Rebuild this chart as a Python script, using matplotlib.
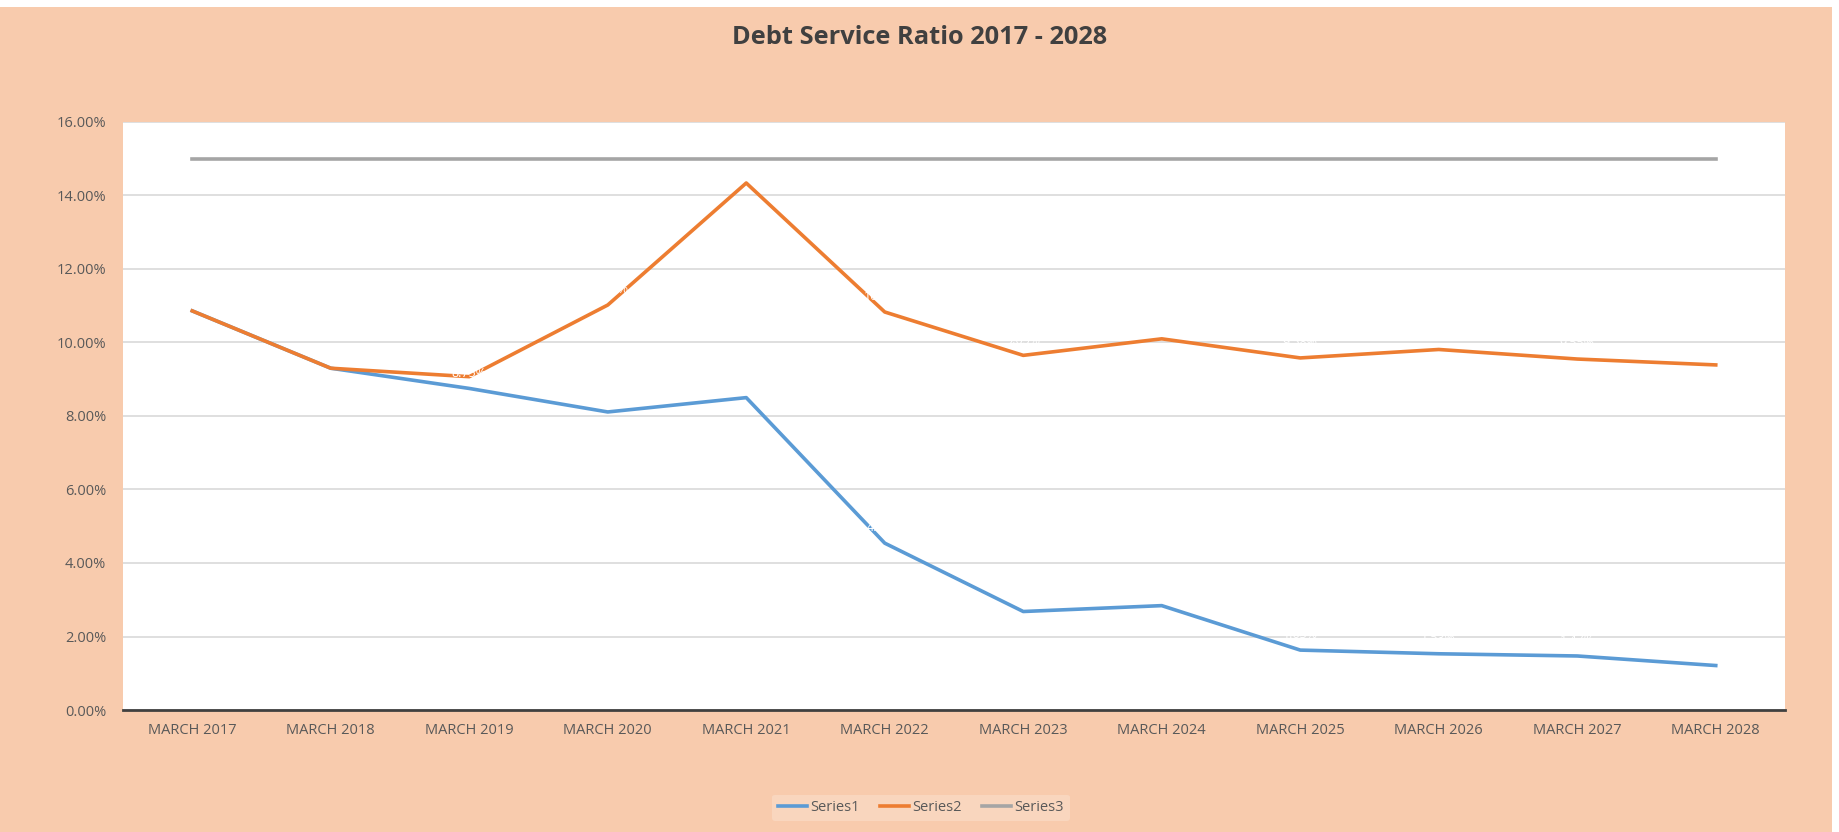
import matplotlib
matplotlib.use("Agg")
import matplotlib.pyplot as plt
from matplotlib import font_manager
from matplotlib.patches import Rectangle
from matplotlib.ticker import FuncFormatter

# pick a narrow sans for the Calibri-like look
available = {f.name for f in font_manager.fontManager.ttflist}
family = next((f for f in ["Liberation Sans Narrow", "Open Sans", "Lato", "DejaVu Sans"] if f in available), "DejaVu Sans")
plt.rcParams["font.family"] = [family, "DejaVu Sans"]

years = ["MARCH 2017", "MARCH 2018", "MARCH 2019", "MARCH 2020", "MARCH 2021", "MARCH 2022",
         "MARCH 2023", "MARCH 2024", "MARCH 2025", "MARCH 2026", "MARCH 2027", "MARCH 2028"]
series1 = [10.86, 9.30, 8.75, 8.11, 8.50, 4.54, 2.68, 2.84, 1.63, 1.53, 1.47, 1.21]
series2 = [10.86, 9.30, 9.07, 11.02, 14.34, 10.83, 9.65, 10.10, 9.58, 9.81, 9.55, 9.39]
series3 = [15.00] * 12

peach = "#F8CBAD"
tick_grey = "#595959"

fig = plt.figure(figsize=(18.39, 8.32), dpi=100, facecolor="white")
# chart area background, leaving a thin white edge at the top and right
fig.patches.append(Rectangle((0, 0), 1832 / 1839, 825 / 832, transform=fig.transFigure,
                             facecolor=peach, edgecolor="none", zorder=-10))

ax = fig.add_axes([123 / 1839, 122 / 832, 1662 / 1839, 588 / 832])
ax.set_facecolor("white")
x = list(range(len(years)))

ax.plot(x, series1, color="#5B9BD5", lw=2.6, label="Series1", zorder=3)
ax.plot(x, series2, color="#ED7D31", lw=2.6, label="Series2", zorder=4)
ax.plot(x, series3, color="#A5A5A5", lw=2.6, label="Series3", zorder=2)

# white data labels above the points
for vals in (series1, series2):
    for i, v in enumerate(vals):
        ax.annotate(f"{v:.2f}%", (i, v), xytext=(0, 11), textcoords="offset points",
                    ha="center", va="center", fontsize=9, color="white", zorder=5)

ax.set_xlim(-0.5, len(years) - 0.5)
ax.set_ylim(0, 16)
ax.set_yticks(range(0, 17, 2))
ax.yaxis.set_major_formatter(FuncFormatter(lambda v, p: f"{v:.2f}%"))
ax.set_xticks(x)
ax.set_xticklabels(years)
ax.tick_params(axis="both", length=0, labelsize=10.5, colors=tick_grey)
ax.tick_params(axis="y", pad=12)
ax.tick_params(axis="x", pad=9)

ax.grid(axis="y", color="#D9D9D9", lw=1.2, zorder=1)
ax.set_axisbelow(True)
for side in ("top", "right", "left"):
    ax.spines[side].set_visible(False)
ax.spines["bottom"].set_color("#404040")
ax.spines["bottom"].set_linewidth(2)

fig.text(0.5, 0.955, "Debt Service Ratio 2017 - 2028", ha="center", va="center",
         fontsize=18.3, fontweight="bold", color="#404040")

leg = fig.legend(loc="center", bbox_to_anchor=(0.5008, 0.029), ncol=3, frameon=True,
                 fontsize=10.5, handlelength=2.0, columnspacing=1.4, handletextpad=0.2,
                 borderpad=0.4, borderaxespad=0)
leg.get_frame().set_facecolor("#F9D6BE")
leg.get_frame().set_edgecolor("none")
leg.get_frame().set_alpha(1)
for t in leg.get_texts():
    t.set_color(tick_grey)

fig.savefig("out.png", dpi=100, facecolor=fig.get_facecolor())
